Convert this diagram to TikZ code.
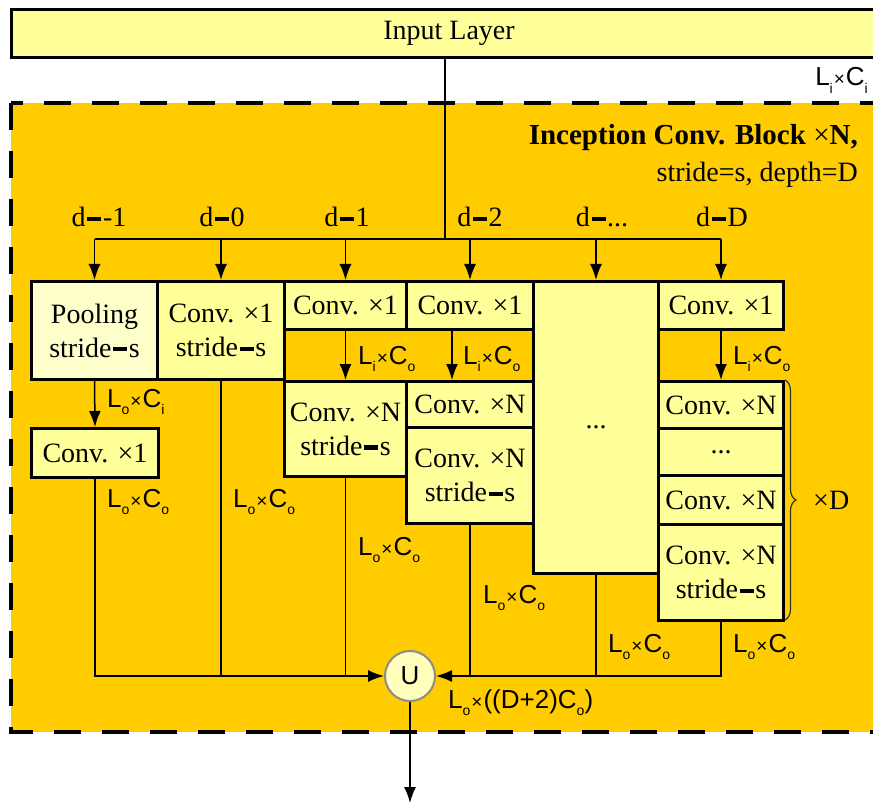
\documentclass[tikz,border=0pt]{standalone}
\usepackage{fontspec}
\setmainfont{Liberation Serif}
\newfontfamily\lblfont{Liberation Sans}
\usetikzlibrary{arrows.meta,decorations.pathreplacing,positioning}
\definecolor{blockorange}{HTML}{FFCC00}
\definecolor{boxyellow}{HTML}{FFFF99}
\definecolor{poolyellow}{HTML}{FFFFCC}
\definecolor{unionfill}{HTML}{FFFFBB}
\newcommand\eqbar{\kern0.06em\rule[0.2em]{0.5em}{0.16em}\kern0.06em}
\newcommand\lowsub[1]{\raisebox{-0.3em}{\fontsize{14}{14}\selectfont #1}}
\newcommand\smalltimes{\kern1pt{\fontsize{19}{19}\selectfont ×}\kern1pt}
\newcommand\lxc[2]{{\lblfont L\lowsub{#1}\smalltimes C\lowsub{#2}}}
\begin{document}
\begin{tikzpicture}[x=1pt,y=-1pt,
  font=\fontsize{28}{34}\selectfont,
  box/.style={draw,line width=3pt,fill=boxyellow,inner sep=0pt,anchor=north west,align=center},
  wire/.style={line width=1.5pt},
  arr/.style={wire,-{Latex[length=16pt,width=12pt]}},
  dimlbl/.style={anchor=base west,inner sep=0pt,font=\fontsize{26}{26}\selectfont}]
\clip (0,0) rectangle (873,805);
% inception block
\draw[line width=4pt,dash pattern=on 27pt off 21pt,fill=blockorange] (11,103) rectangle (900,732);
\node[box,minimum width=875pt,minimum height=48pt] (input) at (10,8) {Input Layer};
\node[dimlbl,anchor=base east] (lii) at (868,86) {\lxc{i}{i}};
\node[anchor=base east,inner sep=0pt,font=\fontsize{29}{34}\selectfont\bfseries] (title) at (858,145) {Inception Conv. Block {\mdseries×}N,};
\node[anchor=base east,inner sep=0pt] (title2) at (858,182) {stride=s, depth=D};
% first row
\node[box,fill=poolyellow,minimum width=126pt,minimum height=98pt] (pool) at (30,280) {Pooling\\stride\eqbar s};
\node[box,minimum width=127pt,minimum height=98pt] (cs0) at (156,280) {Conv. ×1\\stride\eqbar s};
\node[box,minimum width=122pt,minimum height=48pt] (c1a) at (283,280) {Conv. ×1};
\node[box,minimum width=127pt,minimum height=48pt] (c2a) at (405,280) {Conv. ×1};
\node[box,minimum width=125pt,minimum height=292pt] (cdots) at (532,280) {...};
\node[box,minimum width=125pt,minimum height=48pt] (cDa) at (657,280) {Conv. ×1};
% second row and stacks
\node[box,minimum width=127pt,minimum height=49pt] (c0b) at (30,427) {Conv. ×1};
\node[box,minimum width=122pt,minimum height=95pt] (c1b) at (283,380) {Conv. ×N\\stride\eqbar s};
\node[box,minimum width=127pt,minimum height=46pt] (c2b) at (405,380) {Conv. ×N};
\node[box,minimum width=127pt,minimum height=96pt] (c2c) at (405,426) {Conv. ×N\\stride\eqbar s};
\node[box,minimum width=125pt,minimum height=47pt] (cDb) at (657,380) {Conv. ×N};
\node[box,minimum width=125pt,minimum height=47pt] (cDc) at (657,427) {...};
\node[box,minimum width=125pt,minimum height=49pt] (cDd) at (657,474) {Conv. ×N};
\node[box,minimum width=125pt,minimum height=96pt] (cDe) at (657,523) {Conv. ×N\\stride\eqbar s};
% split to the branches
\coordinate (split) at (445,239);
\draw[wire] (split |- input.south) -- (split);
\draw[wire] (pool.north |- split) -- (cDa.north |- split);
\foreach \b in {pool,cs0,c1a,c2a,cdots,cDa}{
  \draw[arr] (\b.north |- split) -- (\b.north);
}
\node[anchor=base,inner sep=0pt] (dm1) at (99,227) {d\eqbar -1};
\node[anchor=base,inner sep=0pt] (d0) at (222,227) {d\eqbar 0};
\node[anchor=base,inner sep=0pt] (d1) at (347,227) {d\eqbar 1};
\node[anchor=base,inner sep=0pt] (d2) at (480,227) {d\eqbar 2};
\node[anchor=base,inner sep=0pt] (ddots) at (602,227) {d\eqbar ...};
\node[anchor=base,inner sep=0pt] (dD) at (722,227) {d\eqbar D};
% inner arrows
\draw[arr] (pool.south) -- (c0b.north);
\draw[arr] (c1a.south) -- (c1b.north);
\draw[arr] ([xshift=-18pt]c2a.south) -- ([xshift=-18pt]c2b.north);
\draw[arr] (cDa.south) -- (cDb.north);
\node[dimlbl] (loci) at (107,407) {\lxc{o}{i}};
\node[dimlbl] (lico1) at (358,364) {\lxc{i}{o}};
\node[dimlbl] (lico2) at (463,364) {\lxc{i}{o}};
\node[dimlbl] (licoD) at (733,364) {\lxc{i}{o}};
% repeat brace
\draw[decorate,decoration={brace,amplitude=11pt},line width=1.2pt,black!80] (785,380) -- (785,620);
\node[anchor=west,inner sep=0pt] (xD) at (813,500) {×D};
% concatenation
\node[circle,draw=black!45,line width=2pt,fill=unionfill,minimum size=50pt,inner sep=0pt,
  font=\fontsize{26}{26}\selectfont\lblfont] (U) at (410,676) {U};
\coordinate (out) at (410,803);
\draw[arr] (c0b.south) |- (U.west);
\draw[wire] (cs0.south) -- (cs0.south |- U);
\draw[wire] (c1b.south) -- (c1b.south |- U);
\draw[arr] (cDe.south) |- (U.east);
\draw[wire] (c2c.south) -- (c2c.south |- U);
\draw[wire] (cdots.south) -- (cdots.south |- U);
\draw[arr] (U.south) -- (out);
\node[dimlbl] (loco0) at (107,507) {\lxc{o}{o}};
\node[dimlbl] (loco1) at (233,507) {\lxc{o}{o}};
\node[dimlbl] (loco2) at (358,555) {\lxc{o}{o}};
\node[dimlbl] (loco3) at (483,603) {\lxc{o}{o}};
\node[dimlbl] (loco4) at (608,652) {\lxc{o}{o}};
\node[dimlbl] (loco5) at (733,652) {\lxc{o}{o}};
\node[dimlbl] (lcat) at (448,708) {{\lblfont L\lowsub{o}\smalltimes((D+2)C\lowsub{o})}};
\end{tikzpicture}
\end{document}
